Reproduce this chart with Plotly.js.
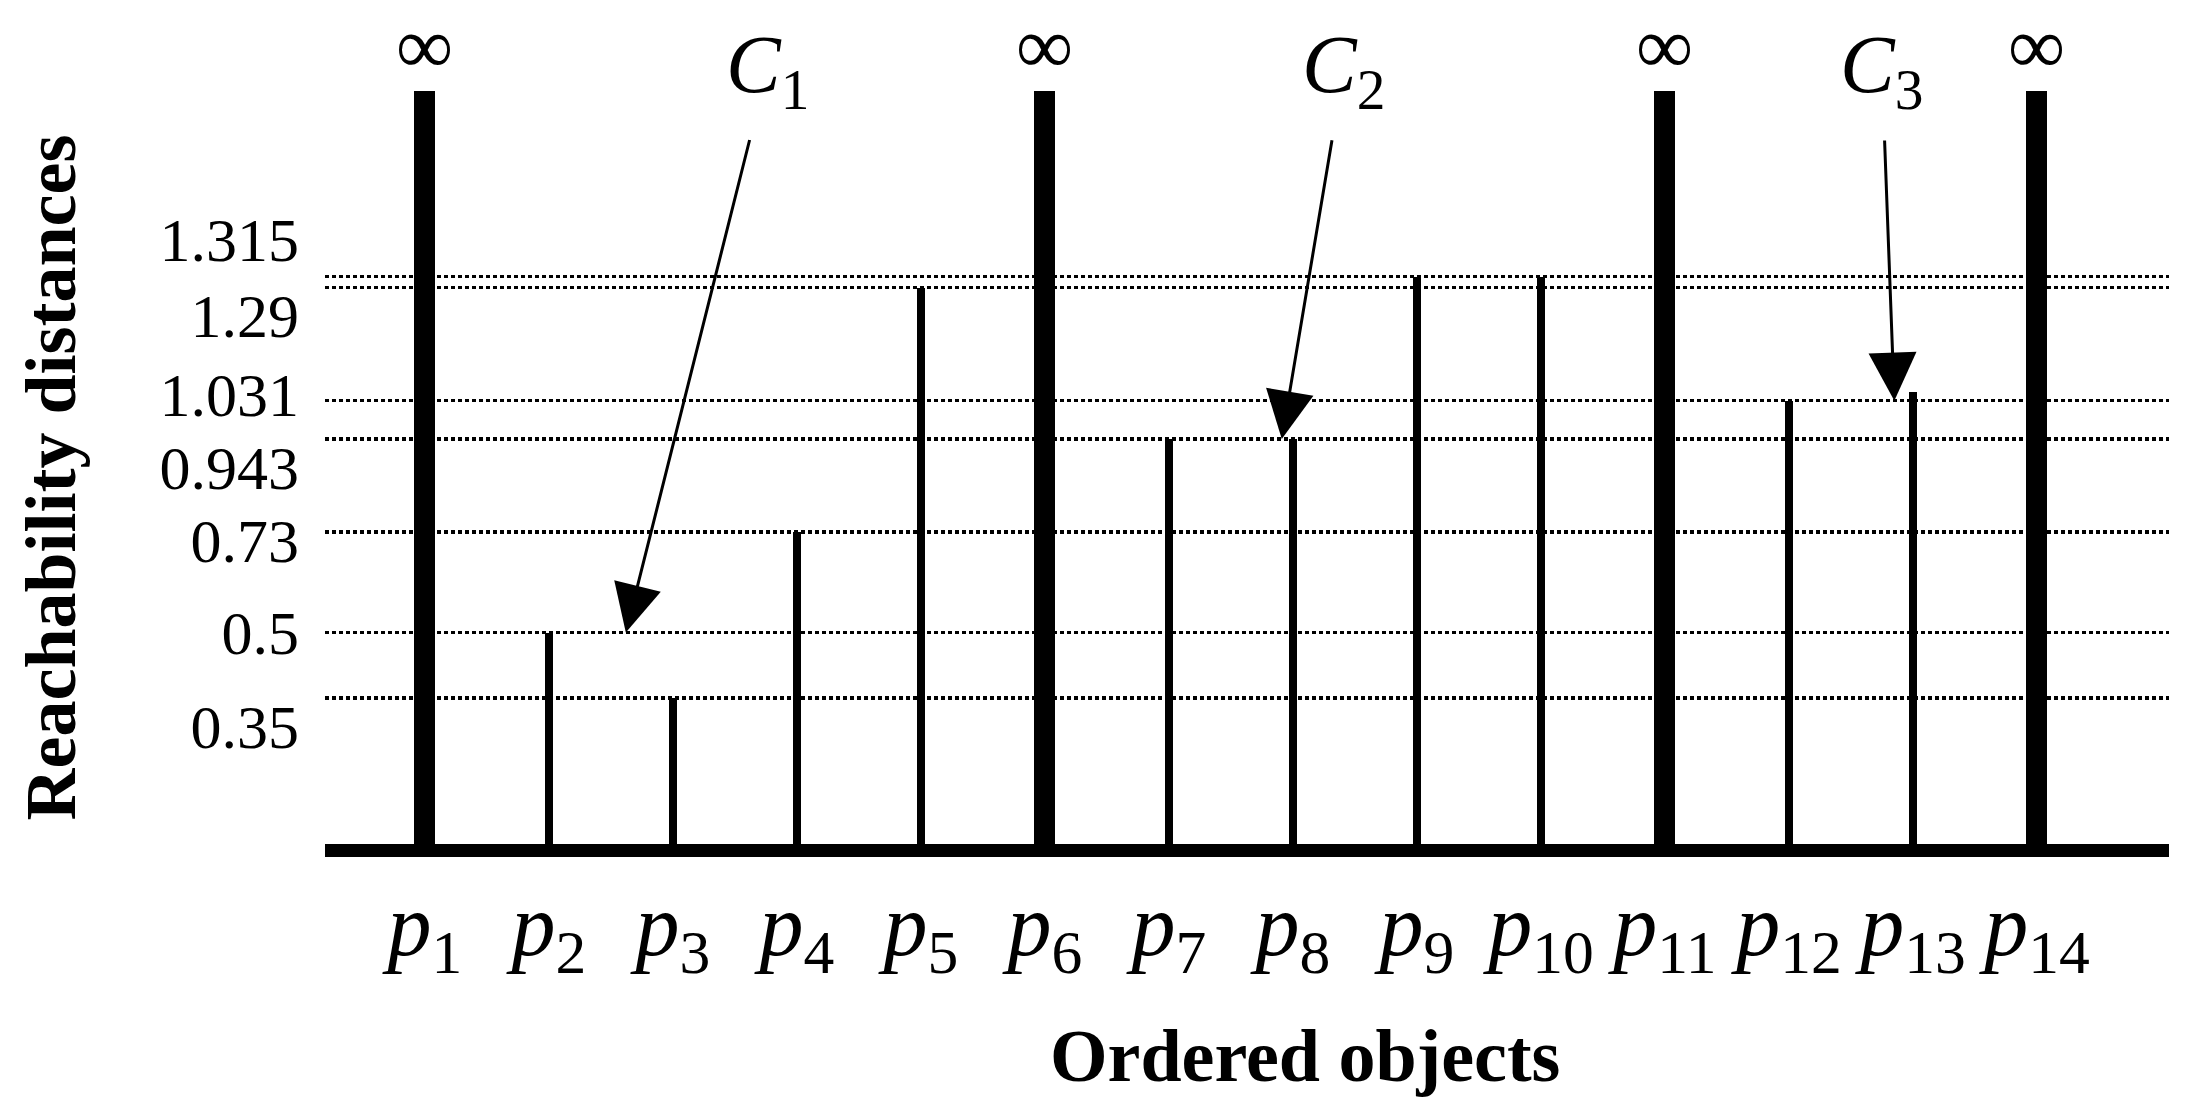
<!DOCTYPE html>
<html>
<head>
<meta charset="utf-8">
<script src="https://cdn.plot.ly/plotly-3.0.1.min.js"></script>
<style>
html,body{margin:0;padding:0;background:#ffffff;}
#chart{width:2194px;height:1120px;}
</style>
</head>
<body>
<div id="chart"></div>
<script>
// ---- data ----
const objects = ['p1','p2','p3','p4','p5','p6','p7','p8','p9','p10','p11','p12','p13','p14'];
const objectLabels = [
  '<i>p</i><sub>1</sub>','<i>p</i><sub>2</sub>','<i>p</i><sub>3</sub>','<i>p</i><sub>4</sub>',
  '<i>p</i><sub>5</sub>','<i>p</i><sub>6</sub>','<i>p</i><sub>7</sub>','<i>p</i><sub>8</sub>',
  '<i>p</i><sub>9</sub>','<i>p</i><sub>10</sub>','<i>p</i><sub>11</sub>','<i>p</i><sub>12</sub>',
  '<i>p</i><sub>13</sub>','<i>p</i><sub>14</sub>'
];
const reachability = [Infinity, 0.5, 0.35, 0.73, 1.29, Infinity, 0.943, 0.943, 1.315, 1.315, Infinity, 1.031, 1.05, Infinity];
const yTickVals = [0.35, 0.5, 0.73, 0.943, 1.031, 1.29, 1.315];
const yTickText = ['0.35', '0.5', '0.73', '0.943', '1.031', '1.29', '1.315'];
const clusterNames = ['<i>C</i><sub>1</sub>', '<i>C</i><sub>2</sub>', '<i>C</i><sub>3</sub>'];
const clusterLevels = [0.5, 0.943, 1.031];

// ---- layout settings ----
const Y_TOP = 1.74;          // top of the axis; infinite distances reach it
const Y_RANGE = [-0.03, Y_TOP];
const SERIF = 'Liberation Serif, Times New Roman, serif';
const clusterTipX = [1.62, 6.91, 11.85];   // arrow tips (category index space)
const clusterLabelX = [2.76, 7.41, 11.75]; // label centres
const clusterLabelY = 1.788;
// pixel nudges of the y tick labels (same order as yTickVals) so close values stay readable
const labelNudge = [28, 0, 8, 28, -6, 28, -37];

const isInf = reachability.map(v => !isFinite(v));
const barHeights = reachability.map(v => isFinite(v) ? v : Y_TOP);
const barWidths = isInf.map(f => f ? 0.17 : 0.068);

const traces = [{
  type: 'bar',
  x: objects,
  y: barHeights,
  width: barWidths,
  marker: {color: '#000000', line: {width: 0}},
  hoverinfo: 'skip',
  showlegend: false
}];

const tickFontY = {family: SERIF, size: 62, color: '#000'};
const layout = {
  width: 2194, height: 1120,
  margin: {l: 325, r: 25, t: 91, b: 256, pad: 0},
  paper_bgcolor: '#ffffff', plot_bgcolor: '#ffffff',
  bargap: 0,
  xaxis: {
    type: 'category',
    range: [-0.806, 14.065],
    tickmode: 'array', tickvals: objects, ticktext: objectLabels,
    showgrid: false, zeroline: false, showline: false, ticks: '',
    ticklabelstandoff: 2,
    tickfont: {family: SERIF, size: 88, color: '#000'},
    fixedrange: true
  },
  yaxis: {
    range: Y_RANGE,
    tickmode: 'array', tickvals: yTickVals, ticktext: yTickText,
    showticklabels: false,
    showgrid: true, gridcolor: '#000000', gridwidth: 3.5, griddash: 'dot',
    zeroline: true, zerolinecolor: '#000000', zerolinewidth: 13,
    showline: false, ticks: '',
    title: {text: 'Reachability distances', standoff: 224,
            font: {family: SERIF, size: 72, color: '#000', weight: 'bold'}},
    fixedrange: true
  },
  showlegend: false,
  hovermode: false
};

// tick labels: one overlaid axis per nudge value
const nudges = [...new Set(labelNudge)];
nudges.forEach((n, k) => {
  const id = k + 2;
  const idx = yTickVals.map((v, i) => i).filter(i => labelNudge[i] === n);
  layout['yaxis' + id] = {
    overlaying: 'y', anchor: 'x', side: 'left', range: Y_RANGE,
    tickmode: 'array',
    tickvals: idx.map(i => yTickVals[i]),
    ticktext: idx.map(i => yTickText[i]),
    showgrid: false, zeroline: false, showline: false, ticks: '',
    ticklabelstandoff: 25, ticklabelshift: n,
    tickfont: tickFontY, fixedrange: true
  };
  traces.push({
    type: 'scatter', mode: 'markers', x: [objects[0]], y: [null],
    yaxis: 'y' + id, hoverinfo: 'skip', showlegend: false
  });
});

const annotations = [];
objects.forEach((o, i) => {
  if (isInf[i]) {
    annotations.push({
      x: i, y: Y_TOP, xref: 'x', yref: 'y',
      text: '∞', showarrow: false, yanchor: 'bottom', xanchor: 'center',
      borderpad: 0,
      font: {family: SERIF, size: 80, color: '#000'}
    });
  }
});
clusterNames.forEach((c, k) => {
  annotations.push({
    x: clusterTipX[k], y: clusterLevels[k], xref: 'x', yref: 'y',
    ax: clusterLabelX[k], ay: clusterLabelY, axref: 'x', ayref: 'y',
    text: c, showarrow: true, arrowhead: 2, arrowsize: 3.2, arrowwidth: 3,
    arrowcolor: '#000', startstandoff: 18, standoff: 0,
    font: {family: SERIF, size: 82, color: '#000'}
  });
});
annotations.push({
  x: 0.5315, y: -0.248, xref: 'paper', yref: 'paper',
  text: '<b>Ordered objects</b>', showarrow: false,
  xanchor: 'center', yanchor: 'middle',
  font: {family: SERIF, size: 74, color: '#000'}
});
layout.annotations = annotations;

Plotly.newPlot('chart', traces, layout, {displayModeBar: false, staticPlot: true});
</script>
</body>
</html>
